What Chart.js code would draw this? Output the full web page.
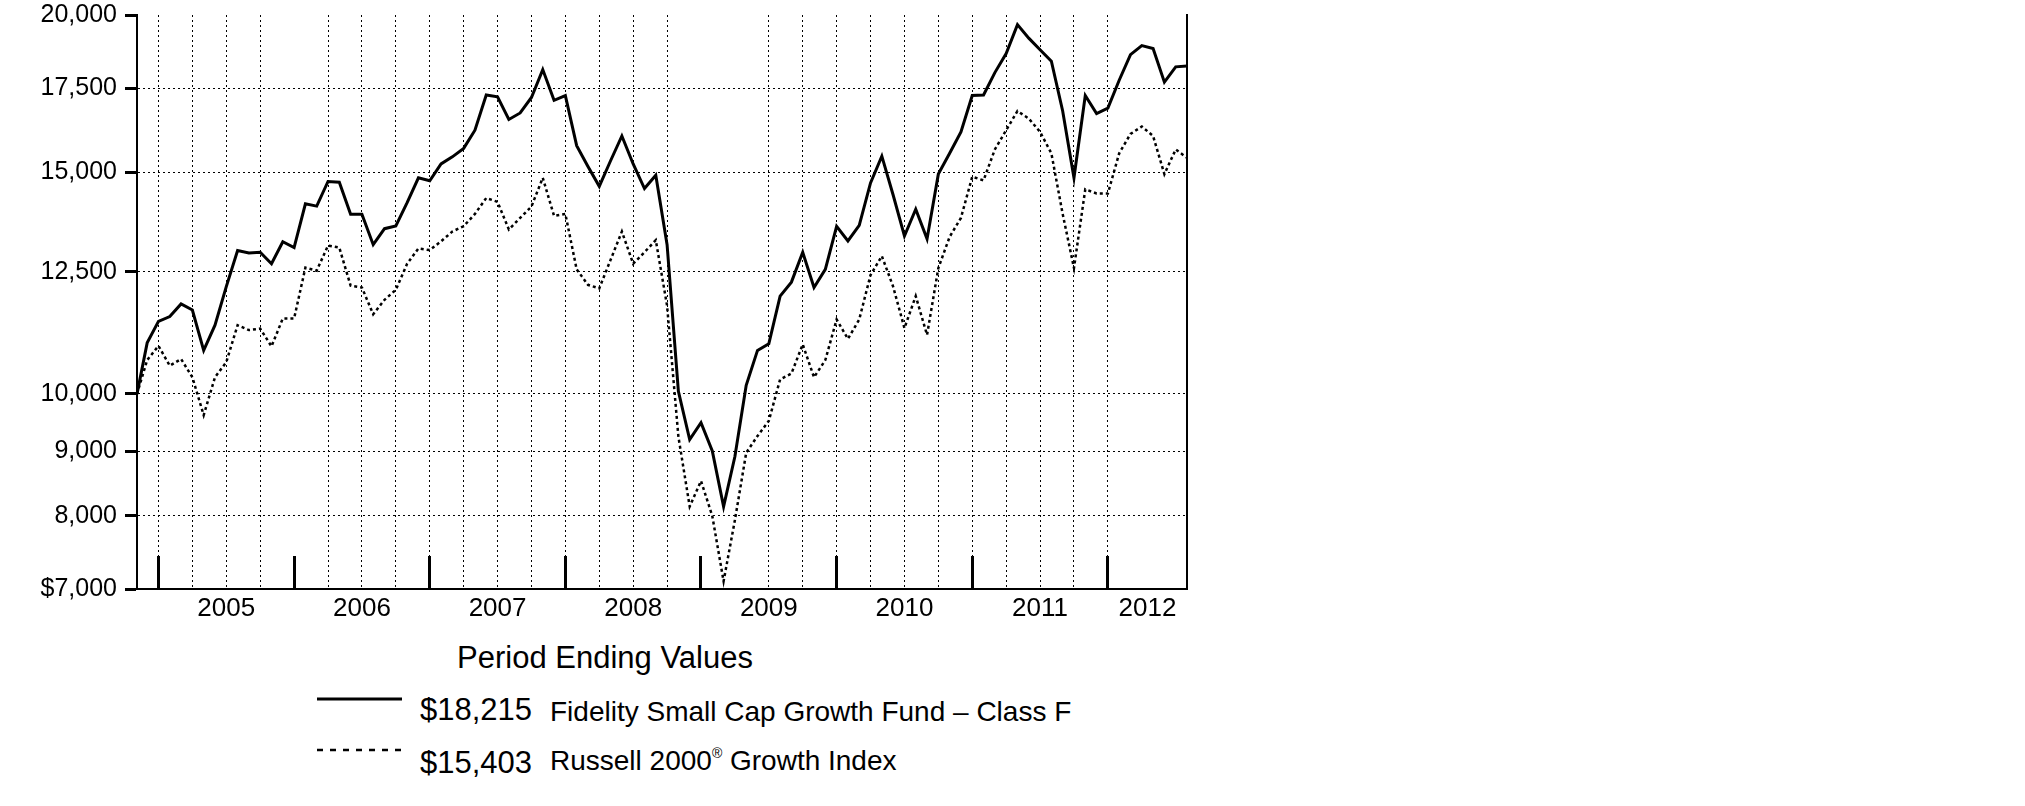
<!DOCTYPE html>
<html>
<head>
<meta charset="utf-8">
<script src="https://cdn.jsdelivr.net/npm/chart.js@4.4.1/dist/chart.umd.min.js"></script>
<style>
  body { margin: 0; background: #fff; width: 2025px; height: 806px; position: relative; overflow: hidden; font-family: "Liberation Sans", Arial, sans-serif; color: #000; }
  #chart_box { position: absolute; left: 0; top: 0; width: 1200px; height: 640px; }
  #legend_title { position: absolute; left: 0; width: 1210px; top: 642px; text-align: center; font-size: 31px; line-height: 31px; }
  .legend_value { position: absolute; left: 420px; font-size: 31px; line-height: 31px; white-space: nowrap; }
  .legend_text { position: absolute; left: 550px; font-size: 28px; line-height: 28px; white-space: nowrap; }
  .legend_line { position: absolute; left: 317px; }
  sup { font-size: 14px; line-height: 0; position: relative; top: -12px; vertical-align: baseline; }
</style>
</head>
<body>
<div id="chart_box"><canvas id="growth_chart" width="1200" height="640"></canvas></div>

<div id="legend_title">Period Ending Values</div>

<svg class="legend_line" style="top:689px" width="86" height="20"><line x1="0" y1="10" x2="85" y2="10" stroke="#000" stroke-width="3"/></svg>
<div class="legend_value" id="fund_value" style="top:694px"></div>
<div class="legend_text" id="fund_name" style="top:698px"></div>

<svg class="legend_line" style="top:740px" width="86" height="20"><line x1="0" y1="10" x2="85" y2="10" stroke="#000" stroke-width="2.5" stroke-dasharray="6 7"/></svg>
<div class="legend_value" id="index_value" style="top:747px"></div>
<div class="legend_text" id="index_name" style="top:747px"></div>

<script>
// month-end values of a hypothetical $10,000 investment
var periodDates = [
  "2004-11-03", "2004-11-30", "2004-12-31",
  "2005-01-31", "2005-02-28", "2005-03-31", "2005-04-30", "2005-05-31", "2005-06-30", "2005-07-31", "2005-08-31", "2005-09-30", "2005-10-31", "2005-11-30", "2005-12-31",
  "2006-01-31", "2006-02-28", "2006-03-31", "2006-04-30", "2006-05-31", "2006-06-30", "2006-07-31", "2006-08-31", "2006-09-30", "2006-10-31", "2006-11-30", "2006-12-31",
  "2007-01-31", "2007-02-28", "2007-03-31", "2007-04-30", "2007-05-31", "2007-06-30", "2007-07-31", "2007-08-31", "2007-09-30", "2007-10-31", "2007-11-30", "2007-12-31",
  "2008-01-31", "2008-02-29", "2008-03-31", "2008-04-30", "2008-05-31", "2008-06-30", "2008-07-31", "2008-08-31", "2008-09-30", "2008-10-31", "2008-11-30", "2008-12-31",
  "2009-01-31", "2009-02-28", "2009-03-31", "2009-04-30", "2009-05-31", "2009-06-30", "2009-07-31", "2009-08-31", "2009-09-30", "2009-10-31", "2009-11-30", "2009-12-31",
  "2010-01-31", "2010-02-28", "2010-03-31", "2010-04-30", "2010-05-31", "2010-06-30", "2010-07-31", "2010-08-31", "2010-09-30", "2010-10-31", "2010-11-30", "2010-12-31",
  "2011-01-31", "2011-02-28", "2011-03-31", "2011-04-30", "2011-05-31", "2011-06-30", "2011-07-31", "2011-08-31", "2011-09-30", "2011-10-31", "2011-11-30", "2011-12-31",
  "2012-01-31", "2012-02-29", "2012-03-31", "2012-04-30", "2012-05-31", "2012-06-30", "2012-07-31"
]

var fundValues = [
  10000, 10980, 11420,
  11520, 11790, 11660, 10830, 11340, 12170, 13000, 12940, 12960, 12690, 13210, 13070,
  14160, 14100, 14750, 14730, 13890, 13890, 13140, 13530, 13600, 14190, 14850, 14770,
  15230, 15430, 15670, 16200, 17280, 17220, 16520, 16720, 17200, 18100, 17110, 17260,
  15750, 15160, 14620, 15320, 16030, 15230, 14560, 14920, 13140, 10050, 9200, 9490,
  9010, 8140, 8920, 10160, 10830, 10960, 11960, 12270, 12960, 12150, 12560, 13590,
  13230, 13610, 14710, 15450, 14390, 13350, 14020, 13280, 14950, 15530, 16150, 17260,
  17280, 18000, 18640, 19650, 19170, 18770, 18380, 16780, 14850, 17260, 16700, 16870,
  17750, 18600, 18910, 18810, 17690, 18190, 18215
]

var indexValues = [
  10000, 10640, 10920,
  10530, 10660, 10310, 9620, 10310, 10600, 11340, 11240, 11270, 10910, 11480, 11480,
  12600, 12530, 13120, 13070, 12190, 12150, 11570, 11880, 12100, 12690, 13050, 13010,
  13220, 13460, 13590, 13900, 14310, 14210, 13510, 13800, 14090, 14850, 13850, 13900,
  12560, 12210, 12130, 12780, 13460, 12690, 12960, 13250, 11750, 9250, 8140, 8530,
  8000, 7100, 7940, 8980, 9260, 9520, 10270, 10380, 10950, 10310, 10640, 11460,
  11060, 11460, 12430, 12870, 12170, 11280, 11960, 11140, 12590, 13330, 13800, 14880,
  14780, 15640, 16200, 16780, 16550, 16150, 15530, 13900, 12590, 14540, 14430, 14430,
  15530, 16090, 16310, 16030, 14950, 15640, 15403
]

var seriesNames = ["Fidelity Small Cap Growth Fund \u2013 Class F", "Russell 2000<sup>\u00ae</sup> Growth Index"]
var endingValues = ["$18,215", "$15,403"]

// axis ticks, in months after Dec 31 2004
var yTickValues = [7000, 8000, 9000, 10000, 12500, 15000, 17500, 20000]
var gridMonths = [0, 3, 6, 9, 15, 18, 21, 24, 27, 30, 33, 36, 39, 42, 45, 54, 57, 60, 63, 66, 69, 72, 75, 78, 81, 84]
var yearTickMonths = [0, 12, 24, 36, 48, 60, 72, 84]
var yearLabelMonths = [6, 18, 30, 42, 54, 66, 78, 87.5]
var yearLabels = ["2005", "2006", "2007", "2008", "2009", "2010", "2011", "2012"]

var font_family = "'Liberation Sans', Arial, sans-serif"
var clear = "rgba(0,0,0,0)"

function months_since_2005(date_string) {
  var parts = date_string.split("-")
  var year = parseInt(parts[0]), month = parseInt(parts[1]), day = parseInt(parts[2])
  var days_in_month = new Date(year, month, 0).getDate()
  return (year - 2005) * 12 + (month - 1) + day / days_in_month
}

function to_points(values) {
  var points = []
  for (let i = 0; i < values.length; i++) {
    points.push({ x: months_since_2005(periodDates[i]), y: values[i] })
  }
  return points
}

function x_ticks() {
  var all = gridMonths.concat(yearTickMonths, yearLabelMonths)
  all = all.filter((v, i) => all.indexOf(v) == i).sort((a, b) => a - b)
  return all.map(v => ({ value: v }))
}

function drawChart() {
  document.getElementById("fund_value").innerHTML = endingValues[0]
  document.getElementById("index_value").innerHTML = endingValues[1]
  document.getElementById("fund_name").innerHTML = seriesNames[0]
  document.getElementById("index_name").innerHTML = seriesNames[1]

  let ctx = document.getElementById("growth_chart").getContext("2d")

  new Chart(ctx, {
    type: "line",
    data: {
      datasets: [{
        label: seriesNames[0],
        data: to_points(fundValues),
        borderColor: "#000",
        borderWidth: 3,
        pointRadius: 0,
        tension: 0
      }, {
        label: seriesNames[1],
        data: to_points(indexValues),
        borderColor: "#000",
        borderWidth: 2.5,
        borderDash: [3, 3],
        pointRadius: 0,
        tension: 0
      }]
    },
    options: {
      responsive: false,
      animation: false,
      devicePixelRatio: 1,
      layout: { padding: { top: 15, left: 0, right: 0, bottom: 0 } },
      plugins: { legend: { display: false }, tooltip: { enabled: false } },
      scales: {
        x: {
          type: "linear",
          min: -1.9,
          max: 91,
          afterBuildTicks: function (axis) { axis.ticks = x_ticks() },
          afterFit: function (axis) { axis.height = 51; axis.paddingLeft = 0; axis.paddingRight = 0 },
          ticks: {
            autoSkip: false,
            maxRotation: 0,
            padding: 37,
            color: "#000",
            font: { family: font_family, size: 26 },
            callback: function (value) {
              let i = yearLabelMonths.indexOf(value)
              return i >= 0 ? yearLabels[i] : ""
            }
          },
          grid: {
            color: function (context) { return context.tick && gridMonths.includes(context.tick.value) ? "#000" : clear },
            lineWidth: 1,
            tickLength: -33,
            tickWidth: 3,
            tickColor: function (context) { return context.tick && yearTickMonths.includes(context.tick.value) ? "#000" : clear }
          },
          border: { color: "#000", width: 2, dash: [2, 3] }
        },
        y: {
          type: "logarithmic",
          position: "left",
          min: 7000,
          max: 20000,
          afterBuildTicks: function (axis) { axis.ticks = yTickValues.map(v => ({ value: v })) },
          afterFit: function (axis) { axis.width = 137; axis.paddingTop = 0; axis.paddingBottom = 0 },
          ticks: {
            autoSkip: false,
            padding: 8,
            color: "#000",
            font: { family: font_family, size: 25 },
            callback: function (value) {
              return value == 7000 ? "$7,000" : value.toLocaleString("en-US")
            }
          },
          grid: {
            color: function (context) {
              if (!context.tick) return clear
              return (context.tick.value == 7000 || context.tick.value == 20000) ? clear : "#000"
            },
            lineWidth: 1,
            tickLength: 12,
            tickWidth: 3,
            tickColor: "#000"
          },
          border: { color: "#000", width: 2, dash: [2, 3] }
        },
        yRight: {
          type: "logarithmic",
          position: "right",
          min: 7000,
          max: 20000,
          afterFit: function (axis) { axis.width = 13; axis.paddingTop = 0; axis.paddingBottom = 0 },
          ticks: { display: false },
          grid: { drawOnChartArea: false, drawTicks: false },
          border: { color: "#000", width: 2 }
        }
      }
    }
  })
}

drawChart()
</script>
</body>
</html>
